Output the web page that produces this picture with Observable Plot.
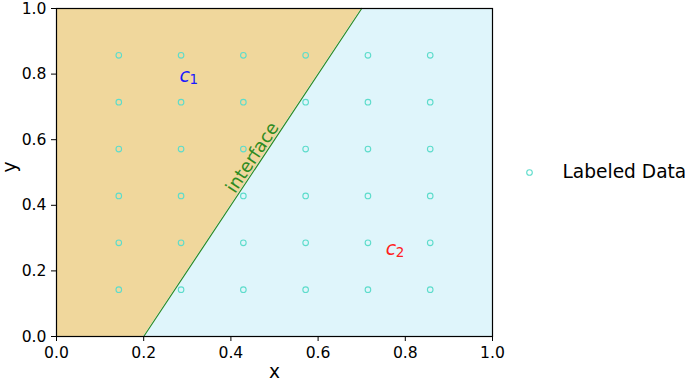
<!DOCTYPE html>
<html>
<head>
<meta charset="utf-8">
<script src="https://cdn.jsdelivr.net/npm/d3@7"></script>
<script src="https://cdn.jsdelivr.net/npm/@observablehq/plot@0.6"></script>
<style>
  html, body { margin: 0; padding: 0; background: #fff; }
  #chart { width: 685px; height: 382px; }
  #chart svg g[aria-label="x-axis tick label"],
  #chart svg g[aria-label="y-axis tick label"] { font-size: 15.6px; }
  #chart svg g[aria-label="x-axis tick label"] text,
  #chart svg g[aria-label="y-axis tick label"] text { font-size: 15.6px; }
</style>
</head>
<body>
<div id="chart"></div>
<script>
// Grid of labeled data points (x and y positions)
const gridValues = [1/7, 2/7, 3/7, 4/7, 5/7, 6/7];
// Interface line endpoints
const interfaceY = [0, 1];
const interfaceX = [0.2, 0.7];
// Axis ticks
const ticks = [0, 0.2, 0.4, 0.6, 0.8, 1.0];
// Annotations
const classLabels = [
  {name: "c", sub: "1", x: 0.282, y: 0.795, color: "#1a1aff"},
  {name: "c", sub: "2", x: 0.755, y: 0.268, color: "#ff2020"}
];
const interfaceLabel = {text: "interface", x: 0.4495, y: 0.5457, angle: -56.4};
const legendLabel = "Labeled Data";

const points = [];
for (const gx of gridValues) for (const gy of gridValues) points.push({x: gx, y: gy});
const boundary = interfaceY.map((y, i) => ({y, x: interfaceX[i]}));

const font = "DejaVu Sans, sans-serif";

const plot = Plot.plot({
  width: 685,
  height: 382,
  marginLeft: 56,
  marginRight: 193,
  marginTop: 8,
  marginBottom: 46,
  style: {fontFamily: font, fontSize: "15.6px", color: "#000", background: "#fff"},
  x: {domain: [0, 1]},
  y: {domain: [0, 1]},
  marks: [
    Plot.areaX(boundary, {y: "y", x1: 0, x2: "x", fill: "#f0d79c"}),
    Plot.areaX(boundary, {y: "y", x1: "x", x2: 1, fill: "#dff5fb"}),
    Plot.line(boundary, {x: "x", y: "y", stroke: "#2e8b22", strokeWidth: 1.2}),
    Plot.dot(points, {x: "x", y: "y", r: 2.8, stroke: "#5ddccb", strokeWidth: 1.1, fill: "none"}),
    Plot.text(classLabels, {x: "x", y: "y", text: "name", fill: "color", fontSize: 19, fontStyle: "italic", textAnchor: "start", fontFamily: font}),
    Plot.text(classLabels, {x: "x", y: "y", text: "sub", fill: "color", fontSize: 13.5, textAnchor: "start", dx: 10, dy: 4, fontFamily: font}),
    Plot.text([interfaceLabel], {x: "x", y: "y", text: "text", rotate: interfaceLabel.angle, fill: "#2e8b22", fontSize: 18, fontFamily: font}),
    Plot.frame({stroke: "#000", strokeWidth: 1.2}),
    Plot.axisX({ticks, tickFormat: d => d.toFixed(1), tickSize: 5, tickPadding: 5, label: null, fontSize: 15.6}),
    Plot.axisY({ticks, tickFormat: d => d.toFixed(1), tickSize: 5, tickPadding: 5, label: null, fontSize: 15.6}),
    Plot.text(["x"], {frameAnchor: "bottom", dy: 41, text: d => d, fontSize: 18.6, fontFamily: font, fill: "#000"}),
    Plot.text(["y"], {frameAnchor: "left", dx: -46, rotate: -90, text: d => d, fontSize: 18.6, fontFamily: font, fill: "#000"}),
    Plot.dot([legendLabel], {frameAnchor: "right", dx: 37, r: 2.8, stroke: "#5ddccb", strokeWidth: 1.1, fill: "none"}),
    Plot.text([legendLabel], {frameAnchor: "right", dx: 70, text: d => d, textAnchor: "start", fontSize: 18.6, fontFamily: font, fill: "#000"})
  ]
});
document.getElementById("chart").appendChild(plot);
</script>
</body>
</html>
